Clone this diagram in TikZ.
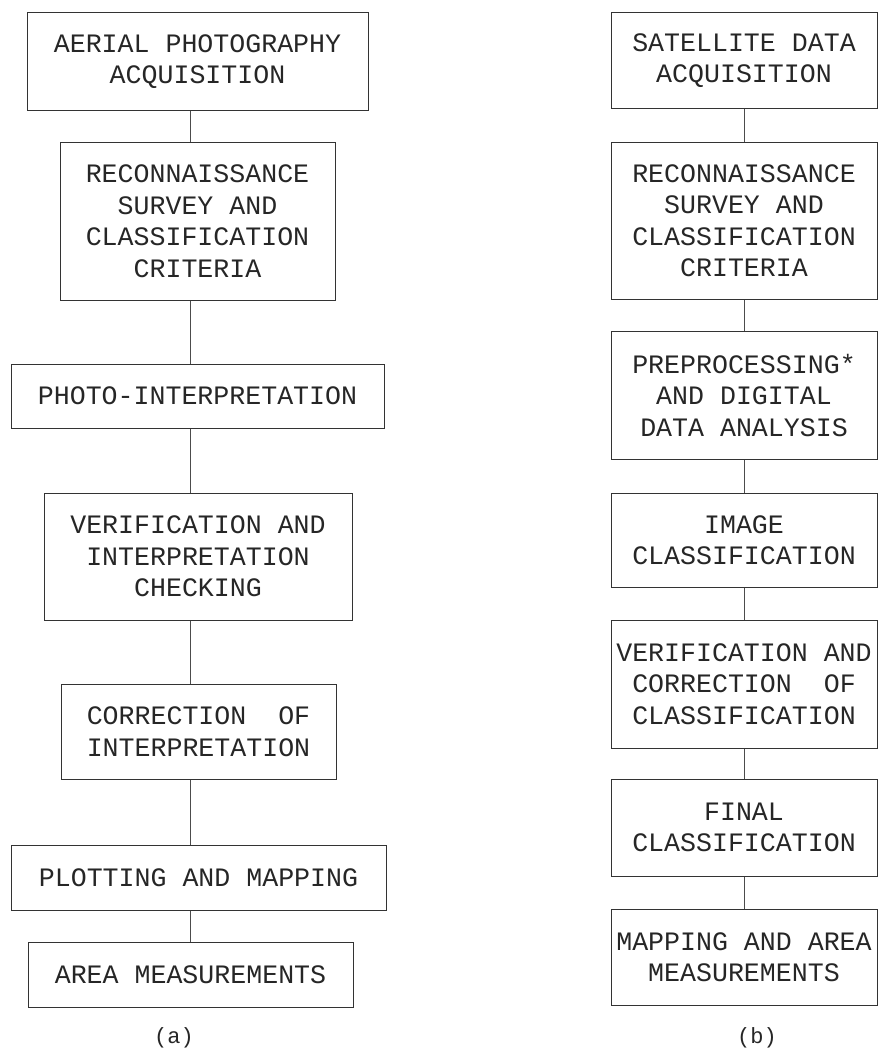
\documentclass[tikz,border=0pt]{standalone}
\usepackage{fontspec}
\setmonofont{Liberation Mono}
\usepackage{tikz}
\tikzstyle{procbox}=[rectangle,draw=black!80,line width=1pt,
                     inner sep=0pt,align=center,text=black!85,
                     font=\ttfamily\fontsize{26.6pt}{31.5pt}\selectfont]
\tikzstyle{link}=[draw=black!70,line width=1pt]
\tikzstyle{caption}=[inner sep=0pt,text=black!85,
                     font=\ttfamily\fontsize{22pt}{26pt}\selectfont]

\begin{document}
\begin{tikzpicture}[x=1pt,y=1pt]
    \useasboundingbox (0,0) rectangle (879,-1049);
    % (a) aerial photography
    \node (a1) at (197.5, -61.5) [procbox,minimum width=341pt,minimum height=97pt]
      {AERIAL PHOTOGRAPHY\\ACQUISITION};
    \node (a2) at (197.5, -221) [procbox,minimum width=275pt,minimum height=158pt]
      {RECONNAISSANCE\\SURVEY AND\\CLASSIFICATION\\CRITERIA};
    \node (a3) at (197.5, -396) [procbox,minimum width=373pt,minimum height=64pt]
      {PHOTO-INTERPRETATION};
    \node (a4) at (198, -556.5) [procbox,minimum width=308pt,minimum height=127pt]
      {VERIFICATION AND\\INTERPRETATION\\CHECKING};
    \node (a5) at (198.5, -731.5) [procbox,minimum width=275pt,minimum height=95pt]
      {CORRECTION\ \ OF\\INTERPRETATION};
    \node (a6) at (198.5, -877.5) [procbox,minimum width=375pt,minimum height=65pt]
      {PLOTTING AND MAPPING};
    \node (a7) at (190.5, -974.5) [procbox,minimum width=325pt,minimum height=65pt]
      {AREA MEASUREMENTS};
    \node (capa) at (174, -1038) [caption] {(a)};
    \draw[link] (a1.south -| a7.north) -- (a2.north -| a7.north);
    \draw[link] (a2.south -| a7.north) -- (a3.north -| a7.north);
    \draw[link] (a3.south -| a7.north) -- (a4.north -| a7.north);
    \draw[link] (a4.south -| a7.north) -- (a5.north -| a7.north);
    \draw[link] (a5.south -| a7.north) -- (a6.north -| a7.north);
    \draw[link] (a6.south -| a7.north) -- (a7.north);
    % (b) satellite data
    \node (b1) at (744, -60.5) [procbox,minimum width=266pt,minimum height=95pt]
      {SATELLITE DATA\\ACQUISITION};
    \node (b2) at (744, -220.5) [procbox,minimum width=266pt,minimum height=157pt]
      {RECONNAISSANCE\\SURVEY AND\\CLASSIFICATION\\CRITERIA};
    \node (b3) at (744, -395) [procbox,minimum width=266pt,minimum height=128pt]
      {PREPROCESSING*\\AND DIGITAL\\DATA ANALYSIS};
    \node (b4) at (744, -540) [procbox,minimum width=266pt,minimum height=94pt]
      {IMAGE\\CLASSIFICATION};
    \node (b5) at (744, -684) [procbox,minimum width=266pt,minimum height=128pt]
      {VERIFICATION AND\\CORRECTION\ \ OF\\CLASSIFICATION};
    \node (b6) at (744, -827.5) [procbox,minimum width=266pt,minimum height=97pt]
      {FINAL\\CLASSIFICATION};
    \node (b7) at (744, -957) [procbox,minimum width=266pt,minimum height=96pt]
      {MAPPING AND AREA\\MEASUREMENTS};
    \node (capb) at (757, -1038) [caption] {(b)};
    \draw[link] (b1) -- (b2);
    \draw[link] (b2) -- (b3);
    \draw[link] (b3) -- (b4);
    \draw[link] (b4) -- (b5);
    \draw[link] (b5) -- (b6);
    \draw[link] (b6) -- (b7);
  \end{tikzpicture}
\end{document}
